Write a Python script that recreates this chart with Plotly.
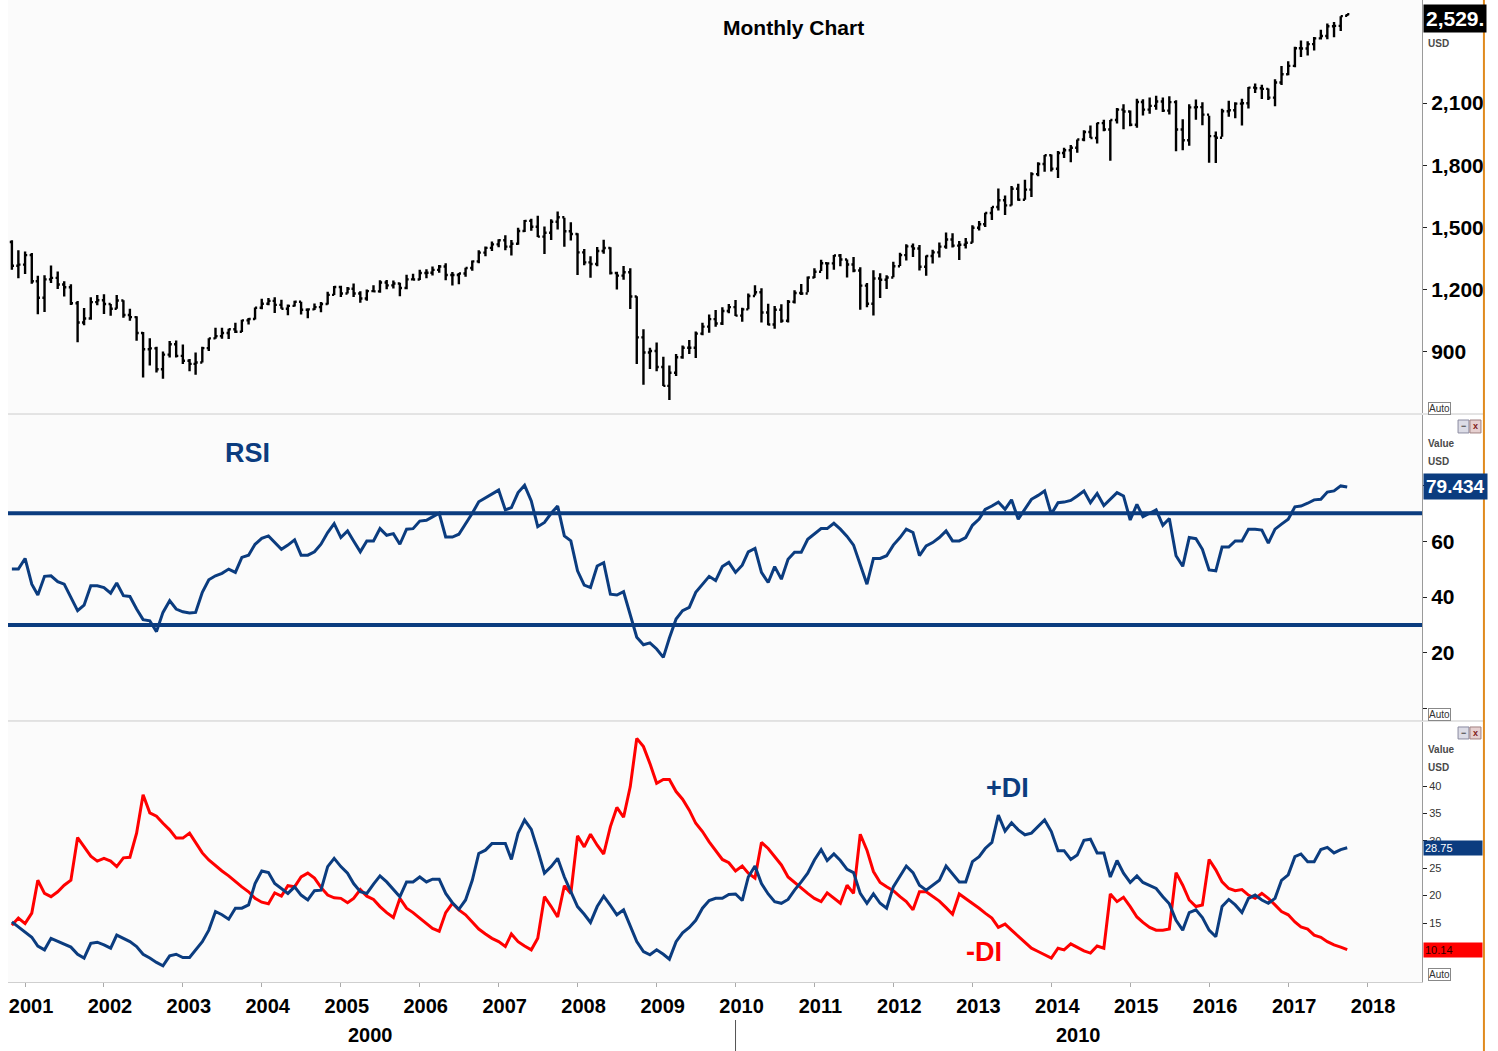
import pandas as pd
import plotly.graph_objects as go
from plotly.subplots import make_subplots

# monthly bars, Nov 2000 .. Oct 2017 (bars plotted at the first of each month)
months = pd.date_range("2000-11-01", periods=204, freq="MS")

px_open = [
    1429, 1315,
    1320, 1366, 1240, 1160, 1249, 1256, 1224, 1211, 1134, 1041, 1060, 1139,
    1148, 1130, 1107, 1147, 1077, 1067, 990, 912, 916, 815, 886, 936,
    880, 856, 841, 848, 917, 964, 975, 990, 1008, 996, 1051, 1058,
    1112, 1131, 1145, 1126, 1107, 1121, 1141, 1102, 1104, 1115, 1130, 1174,
    1212, 1181, 1204, 1181, 1157, 1192, 1191, 1234, 1220, 1229, 1207, 1249,
    1248, 1280, 1281, 1295, 1311, 1270, 1270, 1277, 1304, 1336, 1378, 1401,
    1418, 1438, 1407, 1421, 1482, 1531, 1503, 1455, 1474, 1527, 1549, 1481,
    1468, 1379, 1331, 1323, 1386, 1400, 1280, 1267, 1283, 1166, 969, 896,
    903, 826, 735, 798, 873, 919, 919, 987, 1021, 1057, 1036, 1096,
    1115, 1074, 1104, 1169, 1187, 1089, 1031, 1102, 1049, 1141, 1183, 1181,
    1258, 1286, 1327, 1326, 1364, 1345, 1321, 1292, 1219, 1131, 1253, 1247,
    1258, 1312, 1366, 1408, 1398, 1310, 1362, 1379, 1407, 1441, 1412, 1416,
    1426, 1498, 1515, 1569, 1598, 1631, 1606, 1686, 1633, 1682, 1757, 1806,
    1848, 1783, 1859, 1872, 1884, 1924, 1960, 1931, 2003, 1972, 2018, 2068,
    2059, 1995, 2105, 2068, 2086, 2107, 2063, 2104, 1972, 1920, 2079, 2080,
    2044, 1940, 1932, 2060, 2065, 2097, 2099, 2174, 2171, 2168, 2126, 2199,
    2239, 2279, 2364, 2363, 2384, 2412, 2423, 2470, 2472, 2521,
]
px_high = [
    1438, 1389,
    1383, 1376, 1267, 1269, 1316, 1287, 1240, 1226, 1144, 1111, 1163, 1173,
    1177, 1130, 1173, 1148, 1107, 1071, 995, 965, 924, 901, 951, 954,
    935, 865, 896, 924, 965, 1015, 1015, 1011, 1040, 1054, 1063, 1113,
    1155, 1159, 1163, 1151, 1128, 1146, 1141, 1109, 1132, 1140, 1189, 1217,
    1218, 1212, 1229, 1192, 1200, 1220, 1245, 1246, 1243, 1233, 1271, 1276,
    1295, 1298, 1311, 1318, 1327, 1284, 1280, 1305, 1340, 1389, 1408, 1432,
    1442, 1462, 1439, 1498, 1536, 1541, 1556, 1504, 1539, 1576, 1546, 1524,
    1472, 1396, 1360, 1405, 1440, 1404, 1286, 1313, 1303, 1167, 1008, 919,
    944, 875, 833, 889, 930, 956, 997, 1040, 1080, 1101, 1114, 1130,
    1150, 1112, 1181, 1220, 1206, 1131, 1121, 1129, 1149, 1196, 1227, 1263,
    1303, 1344, 1332, 1367, 1371, 1345, 1357, 1307, 1231, 1293, 1278, 1269,
    1334, 1378, 1419, 1422, 1415, 1364, 1392, 1427, 1475, 1471, 1434, 1448,
    1510, 1531, 1570, 1598, 1687, 1654, 1699, 1710, 1730, 1766, 1814, 1849,
    1851, 1868, 1884, 1897, 1924, 1968, 1991, 2005, 2019, 2018, 2076, 2094,
    2064, 2120, 2118, 2126, 2135, 2127, 2133, 2113, 2021, 2094, 2117, 2104,
    2038, 1963, 2072, 2111, 2104, 2121, 2177, 2194, 2188, 2170, 2214, 2278,
    2301, 2372, 2401, 2398, 2419, 2454, 2484, 2491, 2519, 2529,
]
px_low = [
    1295, 1254,
    1275, 1228, 1081, 1092, 1232, 1203, 1166, 1125, 945, 1027, 1054, 1124,
    1082, 1074, 1107, 1064, 1049, 953, 776, 833, 800, 769, 872, 872,
    840, 806, 789, 848, 903, 963, 962, 961, 990, 995, 1031, 1055,
    1105, 1124, 1087, 1107, 1076, 1118, 1079, 1061, 1101, 1090, 1128, 1174,
    1164, 1181, 1164, 1136, 1146, 1188, 1184, 1201, 1205, 1168, 1201, 1247,
    1246, 1254, 1268, 1281, 1245, 1219, 1225, 1261, 1291, 1327, 1361, 1386,
    1404, 1389, 1364, 1416, 1477, 1484, 1454, 1371, 1439, 1490, 1406, 1436,
    1270, 1317, 1257, 1312, 1373, 1272, 1200, 1247, 1106, 840, 741, 816,
    805, 735, 667, 783, 866, 889, 869, 979, 991, 1020, 1029, 1086,
    1072, 1045, 1105, 1171, 1041, 1028, 1011, 1040, 1041, 1132, 1173, 1187,
    1256, 1289, 1249, 1295, 1312, 1258, 1283, 1102, 1114, 1075, 1159, 1202,
    1259, 1313, 1340, 1357, 1292, 1267, 1325, 1355, 1397, 1403, 1343, 1398,
    1426, 1485, 1502, 1536, 1581, 1560, 1605, 1628, 1633, 1647, 1746, 1768,
    1770, 1738, 1834, 1814, 1860, 1916, 1931, 1905, 1964, 1821, 2001, 1973,
    1988, 1981, 2040, 2048, 2068, 2056, 2044, 1867, 1872, 1894, 2019, 1993,
    1812, 1810, 1937, 2034, 2026, 1992, 2074, 2148, 2119, 2115, 2084, 2187,
    2234, 2272, 2322, 2329, 2353, 2406, 2408, 2417, 2447, 2520,
]
px_close = [
    1315, 1320,
    1366, 1240, 1160, 1249, 1256, 1224, 1211, 1134, 1041, 1060, 1139, 1148,
    1130, 1107, 1147, 1077, 1067, 990, 912, 916, 815, 886, 936, 880,
    856, 841, 848, 917, 964, 975, 990, 1008, 996, 1051, 1058, 1112,
    1131, 1145, 1126, 1107, 1121, 1141, 1102, 1104, 1115, 1130, 1174, 1212,
    1181, 1204, 1181, 1157, 1192, 1191, 1234, 1220, 1229, 1207, 1249, 1248,
    1280, 1281, 1295, 1311, 1270, 1270, 1277, 1304, 1336, 1378, 1401, 1418,
    1438, 1407, 1421, 1482, 1531, 1503, 1455, 1474, 1527, 1549, 1481, 1468,
    1379, 1331, 1323, 1386, 1400, 1280, 1267, 1283, 1166, 969, 896, 903,
    826, 735, 798, 873, 919, 919, 987, 1021, 1057, 1036, 1096, 1115,
    1074, 1104, 1169, 1187, 1089, 1031, 1102, 1049, 1141, 1183, 1181, 1258,
    1286, 1327, 1326, 1364, 1345, 1321, 1292, 1219, 1131, 1253, 1247, 1258,
    1312, 1366, 1408, 1398, 1310, 1362, 1379, 1407, 1441, 1412, 1416, 1426,
    1498, 1515, 1569, 1598, 1631, 1606, 1686, 1633, 1682, 1757, 1806, 1848,
    1783, 1859, 1872, 1884, 1924, 1960, 1931, 2003, 1972, 2018, 2068, 2059,
    1995, 2105, 2068, 2086, 2107, 2063, 2104, 1972, 1920, 2079, 2080, 2044,
    1940, 1932, 2060, 2065, 2097, 2099, 2174, 2171, 2168, 2126, 2199, 2239,
    2279, 2364, 2363, 2384, 2412, 2423, 2470, 2472, 2519, 2529,
]

rsi = [
    50, 50,
    53.8, 44.6, 40.7, 47.4, 47.6, 45.5, 44.6, 39.9, 35.1, 37.1, 44, 44,
    43.4, 41.4, 45, 40.5, 40.2, 35.7, 31.9, 31.5, 27.6, 34.5, 38.7, 35.7,
    34.7, 34.3, 34.5, 41.7, 46.2, 47.6, 48.5, 50, 48.8, 54.2, 55, 58.9,
    61, 61.9, 59.5, 57.1, 58.6, 60.5, 55, 55, 56.2, 58.9, 63.1, 66.3,
    61.3, 63.7, 60.1, 56.2, 60.1, 60.1, 64.5, 62.1, 62.7, 58.9, 64.3, 64.5,
    67.2, 67.5, 68.7, 70, 61.5, 61.5, 62.5, 66.1, 70, 74.1, 75.6, 76.8,
    78.3, 71.2, 72, 77.4, 80, 74.4, 65.2, 66.7, 70, 72.6, 61.9, 60.1,
    49.4, 44.3, 43.4, 51.1, 52.3, 41, 40.7, 41.9, 33.9, 25.6, 22.9, 23.6,
    21.4, 18.4, 25.3, 32.1, 35.1, 36.3, 41.7, 44.6, 47.4, 45.9, 50.9, 52.4,
    48.8, 51.4, 56.2, 57.4, 48.8, 45.2, 50.9, 46.4, 53.5, 56, 56, 60.7,
    62.7, 64.5, 64.5, 66.4, 64.3, 61.7, 58.6, 51.4, 44.6, 53.8, 53.8, 54.8,
    58.6, 61.3, 64.3, 63.1, 54.8, 58.3, 59.5, 61.3, 63.7, 60.1, 60.1, 61.3,
    65.7, 67.9, 71.4, 72.6, 74, 71.4, 74.8, 67.9, 71.4, 75, 76.4, 78,
    69.7, 73.8, 74, 74.6, 76.2, 78, 73.8, 77.1, 72.8, 75, 77.4, 76.2,
    67.6, 73.2, 68.8, 70, 71.2, 65.7, 68.1, 54.8, 51, 61.3, 60.9, 57.1,
    49.7, 49.4, 57.9, 57.9, 60.1, 60.1, 64.3, 64.3, 64, 59.3, 64.3, 66.1,
    67.9, 72.3, 72.6, 73.6, 74.8, 75, 77.6, 78, 79.8, 79.434,
]
plus_di = [
    15.2, 14.3,
    13.3, 12.4, 10.8, 10.1, 12.2, 11.7, 11.2, 10.6, 9.3, 8.6, 11.3, 11.5,
    11, 10.4, 12.8, 12.2, 11.6, 10.7, 9.3, 8.6, 7.8, 7.2, 9.0, 9.3,
    8.7, 8.7, 10.1, 11.6, 13.7, 17.1, 16.5, 15.7, 17.7, 17.7, 18.3, 22.2,
    24.5, 24.2, 22.2, 21.3, 20.4, 21.6, 20.1, 19.2, 20.9, 21, 25.3, 26.8,
    25.3, 24.1, 22.2, 20.7, 20.4, 22.1, 23.6, 22.5, 21.1, 19.8, 22.5, 22.5,
    23.4, 22.5, 23, 23, 20.4, 18.7, 17.5, 19.2, 22.8, 27.7, 28.3, 29.5,
    29.5, 29.5, 26.6, 31.4, 33.8, 32.1, 28.3, 24.1, 25.3, 26.8, 23.4, 20.7,
    18, 16.6, 15.1, 18, 19.9, 18.2, 16.5, 17.4, 14.3, 11.6, 9.8, 9.2,
    10.1, 9.3, 8.4, 11.6, 13.2, 14.2, 15.5, 17.7, 19.1, 19.5, 19.5, 20.2,
    20.3, 19.1, 23.4, 25.4, 22.2, 20.3, 18.9, 18.6, 19.3, 21, 22.5, 24.1,
    26.5, 28.4, 26.4, 27.6, 26.4, 24.8, 24.2, 20.4, 18.6, 20.3, 18.6, 17.7,
    21.6, 23.7, 25.4, 24.2, 21.9, 21, 21.9, 22.8, 25.4, 23.9, 22.5, 22.5,
    26.2, 27.1, 28.6, 29.7, 34.7, 31.8, 33.3, 32, 31.1, 31.4, 32.7, 33.8,
    31.7, 28.2, 28.2, 26.6, 27.4, 30.1, 30.3, 27.8, 27.8, 23.4, 26.4, 24.1,
    22.4, 23.6, 22.4, 21.8, 21.3, 19.8, 18.5, 15.5, 13.7, 16.9, 17.4, 16,
    13.7, 12.5, 18, 19.3, 18.3, 16.9, 19.5, 20.1, 19.2, 18.6, 19.5, 22.8,
    23.8, 27.1, 27.6, 26.2, 26.2, 28.4, 28.8, 27.8, 28.4, 28.75,
]
minus_di = [
    14.6, 15.9,
    14.9, 16.8, 22.8, 20.4, 19.8, 20.7, 21.9, 22.8, 30.6, 28.9, 27.2, 26.3,
    26.8, 26.3, 25.3, 26.9, 27, 31.4, 38.4, 35.1, 34.5, 33.2, 32, 30.5,
    30.5, 31.4, 29.8, 27.8, 26.5, 25.4, 24.5, 23.6, 22.5, 21.6, 20.7, 19.5,
    18.8, 18.5, 20.5, 19.9, 21.8, 21.6, 23.4, 24.1, 23.2, 21.5, 20.1, 19.6,
    19.5, 18.7, 19.5, 21.1, 19.9, 19.3, 18, 16.9, 16, 19.5, 17.7, 16.9,
    15.9, 14.9, 14, 13.5, 16.9, 18.6, 17.4, 16.5, 15.2, 13.9, 13, 12.2,
    11.6, 10.7, 13, 11.6, 10.8, 10.1, 12.2, 19.8, 18, 16.1, 21.8, 20.4,
    30.9, 28.9, 31.2, 29.2, 27.6, 32.6, 36.1, 34.3, 39.9, 48.7, 47.2, 44.1,
    40.5, 41.2, 41.2, 39, 37.6, 35.6, 33.2, 31.7, 29.8, 28.2, 26.6, 26,
    24.5, 25.4, 24.1, 23.2, 29.7, 28.6, 27.2, 25.6, 23.4, 22.4, 21.3, 20.4,
    19.5, 18.9, 20.5, 19.5, 18.6, 21.9, 20.4, 31.2, 28.3, 24.4, 22.4, 21.6,
    20.9, 19.8, 18.9, 17.4, 20.7, 20.7, 19.8, 19, 17.8, 16.6, 20.3, 19.5,
    18.6, 17.7, 16.8, 15.9, 14.2, 14.8, 13.7, 12.6, 11.6, 10.4, 9.8, 9.2,
    8.6, 10.4, 10.1, 11.2, 10.6, 9.9, 9.5, 10.8, 10.4, 20.3, 18.9, 19.7,
    18, 16.1, 15.1, 14.2, 13.7, 13.7, 13.9, 24.2, 21.9, 19.2, 18, 18.3,
    26.6, 24.7, 22.5, 21.3, 20.9, 21.1, 20.1, 19.5, 20.4, 19.5, 18.3, 17.1,
    16.5, 15.2, 14.3, 13.9, 12.8, 12.4, 11.6, 11, 10.6, 10.14,
]

year_ticks = list(range(2001, 2019))
price_ticks = [900, 1200, 1500, 1800, 2100]
rsi_ticks = [0, 20, 40, 60, 80]
di_ticks = [15, 20, 25, 30, 35, 40]

NAVY = "#0b3c7f"
RED = "#ff0000"
FONT = "Liberation Sans, Arial, sans-serif"

fig = make_subplots(rows=3, cols=1, shared_xaxes=True, vertical_spacing=0.0)

fig.add_trace(go.Ohlc(
    x=months, open=px_open, high=px_high, low=px_low, close=px_close,
    increasing_line_color="black", decreasing_line_color="black",
    line_width=2.4, tickwidth=0.35, showlegend=False, hoverinfo="x+y",
), row=1, col=1)

fig.add_trace(go.Scatter(x=months, y=rsi, mode="lines", line=dict(color=NAVY, width=3),
                         showlegend=False), row=2, col=1)
fig.add_hline(y=70, line=dict(color=NAVY, width=4), row=2, col=1)
fig.add_hline(y=30, line=dict(color=NAVY, width=4), row=2, col=1)

fig.add_trace(go.Scatter(x=months, y=minus_di, mode="lines", line=dict(color=RED, width=3),
                         showlegend=False), row=3, col=1)
fig.add_trace(go.Scatter(x=months, y=plus_di, mode="lines", line=dict(color=NAVY, width=3),
                         showlegend=False), row=3, col=1)

yax_common = dict(side="right", showgrid=False, zeroline=False, showline=True,
                  linecolor="#9a9a9a", linewidth=1, ticks="outside", ticklen=4,
                  tickcolor="#222")

fig.update_layout(
    width=1498, height=1051,
    margin=dict(l=8, r=76, t=0, b=69),
    paper_bgcolor="white", plot_bgcolor="#fbfbfb",
    font=dict(family=FONT, color="black"),
    showlegend=False,
    yaxis=dict(domain=[0.5794, 1.0], range=[604, 2597], tickvals=price_ticks,
               ticktext=[f"{v:,}" for v in price_ticks],
               tickfont=dict(size=21, weight="bold"), **yax_common),
    yaxis2=dict(domain=[0.2658, 0.5774], range=[-4.4, 105.2], tickvals=rsi_ticks,
                ticktext=["", "20", "40", "60", ""],
                tickfont=dict(size=21, weight="bold"), **yax_common),
    yaxis3=dict(domain=[0.0, 0.2648], range=[4.23, 51.7], tickvals=di_ticks,
                ticktext=[str(v) for v in di_ticks],
                tickfont=dict(size=11, color="#333"), **yax_common),
)
fig.update_xaxes(rangeslider_visible=False, type="date",
                 range=["2000-10-14", "2018-09-12"], showgrid=False, zeroline=False)
fig.update_xaxes(showticklabels=False, ticks="", row=1, col=1)
fig.update_xaxes(showticklabels=False, ticks="", row=2, col=1)
fig.update_xaxes(
    tickvals=[f"{y}-01-01" for y in year_ticks], ticktext=[str(y) for y in year_ticks],
    tickfont=dict(size=20, weight="bold"), ticks="outside", ticklen=4, tickcolor="#aaa",
    showline=True, linecolor="#cfcfcf", ticklabelshift=6, ticklabelstandoff=2,
    row=3, col=1,
)

# frame lines
shapes = [
    dict(type="line", xref="paper", yref="paper", x0=0, x1=0, y0=0.5794, y1=1.0,
         line=dict(color="black", width=1.5)),
    dict(type="line", xref="paper", yref="paper", x0=0, x1=0, y0=0, y1=0.5774,
         line=dict(color="#d0d0d0", width=1)),
    dict(type="line", xref="paper", yref="paper", x0=0, x1=1.0431, y0=0.5784, y1=0.5784,
         line=dict(color="#c8c8c8", width=1)),
    dict(type="line", xref="paper", yref="paper", x0=0, x1=1.0431, y0=0.2658, y1=0.2658,
         line=dict(color="#c8c8c8", width=1)),
    dict(type="line", xref="paper", yref="paper", x0=1.0438, x1=1.0438, y0=-0.0703, y1=1.0,
         line=dict(color="#e08a1e", width=2)),
    dict(type="line", xref="x3", yref="paper", x0="2010-01-01", x1="2010-01-01",
         y0=-0.0387, y1=-0.0703, line=dict(color="#555", width=1)),
]
# little panel icons
for y0, y1 in [(0.5591, 0.5723), (0.2475, 0.2597)]:
    shapes.append(dict(type="rect", xref="paper", yref="paper", x0=1.0255, x1=1.0332,
                       y0=y0, y1=y1, line=dict(color="#8a8aa0", width=1), fillcolor="#dcdce6"))
    shapes.append(dict(type="rect", xref="paper", yref="paper", x0=1.0339, x1=1.0417,
                       y0=y0, y1=y1, line=dict(color="#a08080", width=1), fillcolor="#e6d0d0"))
fig.update_layout(shapes=shapes)

ann = []


def label(text, x, y, size, color="black", bold=True, xref="paper", yref="paper",
          xanchor="center", **kw):
    ann.append(dict(text=text, x=x, y=y, xref=xref, yref=yref, showarrow=False,
                    xanchor=xanchor, yanchor="middle",
                    font=dict(family=FONT, size=size, color=color,
                              weight="bold" if bold else "normal"), **kw))


label("Monthly Chart", 0.5552, 0.9725, 21)
label("RSI", 0.1697, 0.5387, 27, NAVY)
label("+DI", 0.7072, 0.1976, 27, NAVY)
label("-DI", 0.6902, 0.0305, 27, RED)
label("2000", "2005-05-19", -0.054, 20, xref="x3")
label("2010", "2014-05-08", -0.054, 20, xref="x3")

# right-axis info text
for txt, y in [("USD", 0.9552), ("Value", 0.5479), ("USD", 0.5305), ("Value", 0.2363), ("USD", 0.2189)]:
    label(txt, 1.0028, y, 10, "#4a4a4a", xanchor="left")
for y in [0.5845, 0.2719, 0.0081]:
    label("Auto", 1.0042, y, 10, "#333", bold=False, xanchor="left",
          bordercolor="#888", borderwidth=1, borderpad=0, bgcolor="white")
label("−", 1.0293, 0.5657, 9, "#444")
label("x", 1.0378, 0.5657, 9, "#802020")
label("−", 1.0293, 0.2536, 9, "#444")
label("x", 1.0378, 0.2536, 9, "#802020")

# last-value boxes
label("2,529.", 1.0007, px_close[-1], 21, "white", yref="y", xanchor="left",
      bgcolor="black", borderpad=2, yshift=-4)
label(f"{rsi[-1]:.3f}", 1.0007, rsi[-1], 19, "white", yref="y2", xanchor="left",
      bgcolor=NAVY, borderpad=2)
label(f"{plus_di[-1]:.2f}", 1.0007, plus_di[-1], 11, "white", bold=False, yref="y3",
      xanchor="left", bgcolor=NAVY, borderpad=1, width=56, align="left")
label(f"{minus_di[-1]:.2f}", 1.0007, minus_di[-1], 11, "#300000", bold=False, yref="y3",
      xanchor="left", bgcolor=RED, borderpad=1, width=56, align="left")

fig.update_layout(annotations=ann)

# drop the default 8px page margin so the figure fills the window exactly
fig.write_html("out.html", config={"displayModeBar": False},
               post_script="document.body.style.margin='0';")
